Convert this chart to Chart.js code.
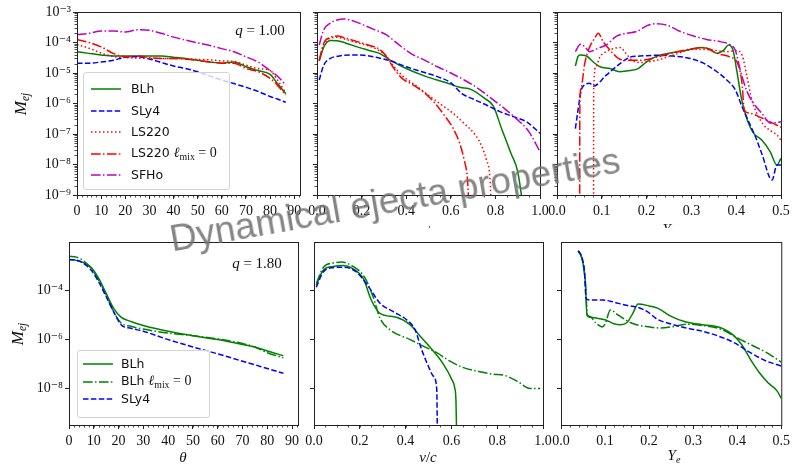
<!DOCTYPE html>
<html>
<head>
<meta charset="utf-8">
<title>Dynamical ejecta properties</title>
<script src="https://cdn.jsdelivr.net/npm/chart.js@4.4.0/dist/chart.umd.min.js"></script>
<style>
  html, body { margin: 0; padding: 0; background: #fff; }
  #fig { position: relative; width: 794px; height: 464px; overflow: hidden; background: #fff; }
  #fig canvas { position: absolute; left: 0; top: 0; }
  #topRow { position: absolute; left: 0; top: 0; width: 794px; height: 228px; overflow: hidden; }
  .lbl { position: absolute; transform: translate(-50%, -50%); white-space: nowrap; line-height: 1;
         font-family: 'Liberation Serif', 'DejaVu Serif', serif; font-size: 15px; color: #111; }
  .lbl sub { font-size: 0.68em; vertical-align: -0.3em; }
  .ytitle { transform: translate(-50%, -50%) rotate(-90deg); font-size: 17px; }
  .legend { position: absolute; box-sizing: border-box; background: rgba(255, 255, 255, 0.8);
            border: 1px solid #d4d4d4; border-radius: 3px;
            font-family: 'DejaVu Sans', sans-serif; font-size: 12.5px; color: #111; }
  .legend svg { position: absolute; }
  .legend span { position: absolute; transform: translateY(-50%); white-space: nowrap; line-height: 1; }
  .legend .m { position: static; transform: none; font-family: 'Liberation Serif', serif; font-size: 14px; }
  .legend sub { font-size: 0.7em; vertical-align: -0.3em; }
  .wm { position: absolute; left: 395px; top: 200px; transform: translate(-50%, -50%) rotate(-10deg);
        font-family: 'Liberation Sans', Arial, sans-serif; font-size: 37px; color: rgba(112, 112, 112, 0.85);
        white-space: nowrap; }
</style>
</head>
<body>
<div id="fig">
  <div id="topRow">
    <canvas id="thetaQ1" width="794" height="464"></canvas>
    <canvas id="velQ1" width="794" height="464"></canvas>
    <canvas id="yeQ1" width="794" height="464"></canvas>
    <div class="lbl" style="left:188px;top:231px"><i>θ</i></div>
    <div class="lbl" style="left:428px;top:231px"><i>v</i>/<i>c</i></div>
    <div class="lbl" style="left:669px;top:231px"><i>Y<sub>e</sub></i></div>
  </div>
  <canvas id="thetaQ2" width="794" height="464"></canvas>
  <canvas id="velQ2" width="794" height="464"></canvas>
  <canvas id="yeQ2" width="794" height="464"></canvas>

  <div class="lbl ytitle" style="left:22px;top:104px"><i>M<sub>ej</sub></i></div>
  <div class="lbl ytitle" style="left:19px;top:334px"><i>M<sub>ej</sub></i></div>
  <div class="lbl" style="left:260px;top:30px"><i>q</i> = 1.00</div>
  <div class="lbl" style="left:257px;top:263px"><i>q</i> = 1.80</div>
  <div class="lbl" style="left:183px;top:457px"><i>θ</i></div>
  <div class="lbl" style="left:428px;top:457px"><i>v</i>/<i>c</i></div>
  <div class="lbl" style="left:674px;top:457px"><i>Y<sub>e</sub></i></div>
</div>

<script>
// ---- tick labels ----
const thetaTicks = [0, 10, 20, 30, 40, 50, 60, 70, 80, 90];
const thetaTickLabels = ['0', '10', '20', '30', '40', '50', '60', '70', '80', '90'];
const velTicks = [0, 0.2, 0.4, 0.6, 0.8, 1.0];
const velTickLabels = ['0.0', '0.2', '0.4', '0.6', '0.8', '1.0'];
const yeTicks = [0, 0.1, 0.2, 0.3, 0.4, 0.5];
const yeTickLabels = ['0.0', '0.1', '0.2', '0.3', '0.4', '0.5'];
const massTicksQ1 = [1e-9, 1e-8, 1e-7, 1e-6, 1e-5, 1e-4, 1e-3];
const massTickLabelsQ1 = ['10⁻⁹', '10⁻⁸', '10⁻⁷', '10⁻⁶', '10⁻⁵', '10⁻⁴', '10⁻³'];
const massTicksQ2 = [1e-8, 1e-6, 1e-4];
const massTickLabelsQ2 = ['10⁻⁸', '10⁻⁶', '10⁻⁴'];

// ---- q = 1.00 : angular distribution ----
const thetaQ1 = [0, 5, 10, 15, 20, 25, 30, 35, 40, 45, 50, 55, 60, 65, 70, 75, 80, 83, 86.5];
const thQ1BLh = [5.0e-5, 4.4e-5, 3.9e-5, 3.6e-5, 3.6e-5, 3.6e-5, 3.6e-5, 3.6e-5, 3.3e-5, 3.0e-5, 2.6e-5, 2.3e-5, 2.1e-5, 2.3e-5, 1.6e-5, 1.2e-5, 9.0e-6, 4.6e-6, 2.1e-6];
const thQ1SLy4 = [2.1e-5, 2.1e-5, 2.3e-5, 2.6e-5, 3.3e-5, 3.4e-5, 2.9e-5, 2.2e-5, 1.7e-5, 1.4e-5, 1.1e-5, 8.0e-6, 5.9e-6, 4.5e-6, 3.4e-6, 2.5e-6, 1.7e-6, 1.4e-6, 1.1e-6];
const thQ1LS220 = [8.5e-5, 6.5e-5, 4.5e-5, 3.5e-5, 3.2e-5, 3.1e-5, 3.0e-5, 3.0e-5, 3.0e-5, 2.9e-5, 2.8e-5, 2.7e-5, 2.5e-5, 2.4e-5, 1.8e-5, 1.4e-5, 1.2e-5, 6.0e-6, 2.2e-6];
const thQ1LS220m = [1.26e-4, 1.0e-4, 7.2e-5, 4.4e-5, 3.4e-5, 3.6e-5, 3.2e-5, 3.0e-5, 3.0e-5, 2.8e-5, 2.6e-5, 2.3e-5, 2.1e-5, 2.1e-5, 1.4e-5, 1.1e-5, 6.7e-6, 4.0e-6, 1.9e-6];
const thQ1SFHo = [1.8e-4, 2.0e-4, 2.4e-4, 2.4e-4, 2.2e-4, 2.6e-4, 2.5e-4, 2.0e-4, 1.5e-4, 1.2e-4, 9.7e-5, 8.0e-5, 6.3e-5, 5.0e-5, 3.4e-5, 2.3e-5, 1.2e-5, 8.0e-6, 4.0e-6];

// ---- q = 1.00 : velocity distribution ----
const velQ1BLhX = [0.01, 0.03, 0.06, 0.09, 0.13, 0.18, 0.23, 0.28, 0.33, 0.40, 0.49, 0.58, 0.64, 0.69, 0.75, 0.79, 0.83, 0.87, 0.90, 0.935];
const velQ1BLh = [2.5e-5, 7.0e-5, 1.17e-4, 1.15e-4, 9.5e-5, 7.2e-5, 5.6e-5, 4.4e-5, 2.6e-5, 1.4e-5, 7.6e-6, 4.8e-6, 3.4e-6, 2.9e-6, 1.5e-6, 8.3e-7, 1.35e-7, 2.3e-8, 5.9e-9, 1e-10];
const velQ1SLy4X = [0.01, 0.03, 0.06, 0.10, 0.15, 0.21, 0.27, 0.33, 0.40, 0.47, 0.54, 0.60, 0.65, 0.70, 0.76, 0.82, 0.88, 0.94, 1.0];
const velQ1SLy4 = [5.9e-6, 1.8e-5, 3.0e-5, 3.6e-5, 3.9e-5, 3.8e-5, 3.2e-5, 2.5e-5, 1.6e-5, 1.1e-5, 7.6e-6, 4.8e-6, 2.1e-6, 1.4e-6, 8.9e-7, 5.4e-7, 3.7e-7, 2.5e-7, 1.05e-7];
const velQ1LS220X = [0.01, 0.03, 0.06, 0.09, 0.13, 0.18, 0.23, 0.28, 0.31, 0.34, 0.38, 0.43, 0.49, 0.55, 0.61, 0.66, 0.71, 0.74, 0.76, 0.775, 0.785];
const velQ1LS220 = [2.5e-5, 8.3e-5, 1.38e-4, 1.48e-4, 1.26e-4, 9.8e-5, 7.8e-5, 5.4e-5, 3.6e-5, 1.8e-5, 8.5e-6, 4.6e-6, 2.1e-6, 1.0e-6, 4.8e-7, 2.2e-7, 9.3e-8, 3.8e-8, 1.4e-8, 4e-9, 1e-10];
const velQ1LS220mX = [0.01, 0.03, 0.06, 0.09, 0.13, 0.18, 0.23, 0.28, 0.31, 0.34, 0.38, 0.43, 0.49, 0.53, 0.57, 0.61, 0.64, 0.66, 0.675, 0.685];
const velQ1LS220m = [2.6e-5, 9.5e-5, 1.48e-4, 1.62e-4, 1.38e-4, 1.07e-4, 8.3e-5, 6.0e-5, 3.6e-5, 1.6e-5, 6.8e-6, 4.1e-6, 2.0e-6, 1.0e-6, 4.2e-7, 1.55e-7, 4.9e-8, 1.4e-8, 3.1e-9, 1e-10];
const velQ1SFHoX = [0.01, 0.03, 0.06, 0.09, 0.12, 0.16, 0.21, 0.26, 0.31, 0.36, 0.42, 0.48, 0.54, 0.60, 0.66, 0.72, 0.78, 0.84, 0.90, 0.95, 1.0];
const velQ1SFHo = [8.3e-5, 2.6e-4, 4.3e-4, 5.5e-4, 5.9e-4, 5.2e-4, 3.7e-4, 2.6e-4, 1.8e-4, 9.3e-5, 4.4e-5, 2.7e-5, 1.6e-5, 1.0e-5, 5.9e-6, 3.2e-6, 1.5e-6, 6.9e-7, 2.9e-7, 1.2e-7, 2.6e-8];

// ---- q = 1.00 : electron fraction ----
const yeQ1BLhX = [0.041, 0.047, 0.052, 0.066, 0.081, 0.096, 0.118, 0.14, 0.163, 0.181, 0.2, 0.222, 0.26, 0.29, 0.32, 0.342, 0.357, 0.372, 0.383, 0.393, 0.401, 0.411, 0.42, 0.431, 0.439, 0.457, 0.476, 0.491, 0.5];
const yeQ1BLh = [1.7e-5, 3.5e-5, 3.9e-5, 3.6e-5, 2.3e-5, 1.6e-5, 1.4e-5, 1.1e-5, 1.2e-5, 1.4e-5, 2.3e-5, 3.5e-5, 4.7e-5, 5.6e-5, 6.9e-5, 6.0e-5, 4.4e-5, 5.6e-5, 8.3e-5, 5.6e-5, 1.26e-5, 1.66e-6, 4.8e-7, 1.7e-7, 1.05e-7, 6.3e-8, 2.6e-8, 9.6e-9, 1.6e-8];
const yeQ1SLy4X = [0.041, 0.047, 0.054, 0.062, 0.073, 0.081, 0.11, 0.14, 0.163, 0.185, 0.222, 0.26, 0.297, 0.327, 0.357, 0.379, 0.398, 0.413, 0.428, 0.443, 0.457, 0.48, 0.491, 0.5];
const yeQ1SLy4 = [1.5e-7, 6.2e-7, 2.7e-6, 4.1e-6, 4.6e-6, 3.7e-6, 8.5e-6, 2.0e-5, 3.3e-5, 3.6e-5, 3.8e-5, 3.6e-5, 3.0e-5, 2.1e-5, 1.1e-5, 5.9e-6, 2.8e-6, 7.9e-7, 2.5e-7, 8.1e-8, 2.3e-8, 3.1e-9, 9.6e-9, 9.6e-9];
const yeQ1LS220X = [0.0815, 0.082, 0.087, 0.096, 0.11, 0.129, 0.14, 0.154, 0.166, 0.185, 0.222, 0.26, 0.305, 0.349, 0.379, 0.401, 0.413, 0.424, 0.435, 0.446, 0.461, 0.476, 0.491, 0.5];
const yeQ1LS220 = [1e-10, 3.6e-6, 1.6e-5, 3.4e-5, 5.0e-5, 6.5e-5, 6.9e-5, 4.4e-5, 2.7e-5, 2.2e-5, 2.6e-5, 3.9e-5, 6.0e-5, 5.6e-5, 5.0e-5, 5.4e-5, 3.9e-5, 7.6e-6, 1.3e-6, 4.8e-7, 2.0e-7, 1.3e-7, 9.3e-8, 6.3e-8];
const yeQ1LS220mX = [0.0505, 0.051, 0.054, 0.062, 0.073, 0.084, 0.092, 0.103, 0.118, 0.137, 0.155, 0.185, 0.222, 0.26, 0.297, 0.327, 0.357, 0.387, 0.403, 0.413, 0.418, 0.431, 0.454, 0.476, 0.5];
const yeQ1LS220m = [1e-10, 8e-7, 3.5e-6, 2.1e-5, 7.2e-5, 1.37e-4, 2.0e-4, 1.07e-4, 5.7e-5, 3.0e-5, 2.6e-5, 2.6e-5, 3.3e-5, 4.7e-5, 6.0e-5, 6.8e-5, 4.4e-5, 3.3e-5, 2.1e-5, 4.6e-6, 6.1e-7, 4.8e-7, 3.5e-7, 2.5e-7, 1.65e-7];
const yeQ1SFHoX = [0.041, 0.052, 0.062, 0.073, 0.092, 0.11, 0.133, 0.155, 0.178, 0.2, 0.219, 0.245, 0.275, 0.305, 0.334, 0.364, 0.387, 0.398, 0.409, 0.424, 0.439, 0.457, 0.476, 0.5];
const yeQ1SFHo = [5.0e-5, 8.7e-5, 7.3e-5, 5.0e-5, 6.5e-5, 8.3e-5, 1.63e-4, 2.0e-4, 2.3e-4, 3.5e-4, 4.1e-4, 3.7e-4, 2.3e-4, 1.63e-4, 1.26e-4, 1.07e-4, 8.3e-5, 5.6e-5, 1.26e-5, 2.5e-6, 1.0e-6, 4.8e-7, 2.3e-7, 2.5e-7];

// ---- q = 1.80 : angular distribution ----
const thetaQ2 = [0, 3, 6, 9, 12, 15, 18, 21, 25, 30, 40, 50, 60, 70, 75, 80, 86.5];
const thQ2BLh = [1.9e-3, 1.75e-3, 1.4e-3, 8.9e-4, 3.2e-4, 7.8e-5, 1.9e-5, 8.3e-6, 5.5e-6, 3.8e-6, 2.2e-6, 1.45e-6, 1.0e-6, 6.3e-7, 5.0e-7, 3.4e-7, 2.2e-7];
const thQ2BLhm = [2.6e-3, 2.4e-3, 1.65e-3, 8.1e-4, 2.7e-4, 6.7e-5, 1.4e-5, 4.8e-6, 3.5e-6, 2.7e-6, 1.85e-6, 1.45e-6, 1.07e-6, 6.9e-7, 5.0e-7, 2.9e-7, 1.8e-7];
const thQ2SLy4 = [1.9e-3, 1.8e-3, 1.3e-3, 6.9e-4, 2.3e-4, 5.7e-5, 1.4e-5, 4.1e-6, 2.9e-6, 2.2e-6, 1.0e-6, 5.0e-7, 2.6e-7, 1.3e-7, 9.3e-8, 6.5e-8, 4.2e-8];

// ---- q = 1.80 : velocity distribution ----
const velQ2BLhX = [0.01, 0.04, 0.083, 0.127, 0.17, 0.215, 0.25, 0.288, 0.36, 0.419, 0.463, 0.521, 0.565, 0.601, 0.615, 0.62, 0.623];
const velQ2BLh = [1.7e-4, 6.9e-4, 1.0e-3, 1.1e-3, 8.1e-4, 3.2e-4, 4.2e-5, 1.2e-5, 8.3e-6, 4.1e-6, 1.4e-6, 3.4e-7, 9.8e-8, 2.4e-8, 1.0e-8, 3e-9, 1e-10];
const velQ2BLhmX = [0.01, 0.04, 0.083, 0.12, 0.17, 0.22, 0.258, 0.288, 0.33, 0.42, 0.477, 0.536, 0.594, 0.653, 0.71, 0.784, 0.828, 0.886, 0.945, 0.988];
const velQ2BLhm = [2.0e-4, 8.9e-4, 1.37e-3, 1.5e-3, 1.0e-3, 3.7e-4, 5.7e-5, 7.6e-6, 2.6e-6, 1.0e-6, 5.4e-7, 2.9e-7, 1.3e-7, 7.1e-8, 5.2e-8, 3.8e-8, 3.5e-8, 2.0e-8, 1.0e-8, 1.0e-8];
const velQ2SLy4X = [0.01, 0.04, 0.083, 0.127, 0.185, 0.244, 0.288, 0.346, 0.404, 0.441, 0.47, 0.499, 0.521, 0.536, 0.539];
const velQ2SLy4 = [1.4e-4, 5.9e-4, 8.9e-4, 9.3e-4, 5.9e-4, 1.23e-4, 3.1e-5, 1.4e-5, 6.5e-6, 2.6e-6, 3.9e-7, 8.3e-8, 3.2e-8, 9.3e-9, 1e-10];

// ---- q = 1.80 : electron fraction ----
const yeQ2BLhX = [0.039, 0.045, 0.05, 0.055, 0.059, 0.065, 0.08, 0.1, 0.12, 0.135, 0.15, 0.163, 0.175, 0.2, 0.22, 0.25, 0.28, 0.32, 0.35, 0.37, 0.39, 0.41, 0.43, 0.45, 0.47, 0.49, 0.5];
const yeQ2BLh = [4.2e-3, 2.8e-3, 1.3e-3, 2.7e-4, 1.0e-5, 8.3e-6, 7.6e-6, 6.5e-6, 4.5e-6, 4.1e-6, 5.0e-6, 1.2e-5, 2.9e-5, 2.4e-5, 1.9e-5, 8.9e-6, 5.5e-6, 4.1e-6, 3.5e-6, 2.7e-6, 1.6e-6, 6.3e-7, 1.55e-7, 4.5e-8, 1.7e-8, 8.1e-9, 3.9e-9];
const yeQ2BLhmX = [0.039, 0.045, 0.05, 0.055, 0.06, 0.066, 0.079, 0.094, 0.101, 0.112, 0.13, 0.16, 0.19, 0.225, 0.25, 0.285, 0.32, 0.365, 0.40, 0.43, 0.467, 0.5];
const yeQ2BLhm = [4.2e-3, 3.1e-3, 1.3e-3, 2.7e-4, 1.0e-5, 8.9e-6, 4.8e-6, 3.3e-6, 4.8e-6, 1.65e-5, 1.0e-5, 4.8e-6, 3.5e-6, 3.0e-6, 3.3e-6, 4.3e-6, 3.8e-6, 2.6e-6, 1.17e-6, 6.3e-7, 2.9e-7, 1.2e-7];
const yeQ2SLy4X = [0.039, 0.048, 0.053, 0.057, 0.064, 0.094, 0.116, 0.145, 0.174, 0.196, 0.218, 0.247, 0.284, 0.321, 0.357, 0.394, 0.43, 0.467, 0.5];
const yeQ2SLy4 = [4.4e-3, 2.2e-3, 6.9e-4, 4.9e-5, 4.2e-5, 4.2e-5, 3.6e-5, 2.6e-5, 2.1e-5, 1.4e-5, 6.9e-6, 4.5e-6, 3.0e-6, 2.2e-6, 1.4e-6, 7.3e-7, 2.9e-7, 1.3e-7, 8.3e-8];

// ---- styles (matplotlib g/b/r/m, lw 1.5) ----
const GREEN = '#008000', BLUE = '#0000ff', RED = '#ff0000', MAGENTA = '#bf00bf';
const SOLID = [], DASHED = [5.5, 2.4], DOTTED = [1.5, 2.5], DASHDOT = [9.6, 2.4, 1.5, 2.4];

const W = 794, H = 464, AXIS_W = 50, AXIS_H = 30;
const TICK_FONT = { family: "'Liberation Serif', 'DejaVu Serif', serif", size: 14 };
const INK = '#222';

function line(xs, ys, color, dash) {
    return {
        data: xs.map((x, i) => ({ x: x, y: ys[i] })),
        borderColor: color,
        borderDash: dash,
        borderWidth: 1.5,
        pointRadius: 0,
        fill: false,
        cubicInterpolationMode: 'monotone'
    };
}

// box around the axes plus the small minor ticks
function framePlugin(xMinor, yMinor) {
    return {
        id: 'frame',
        afterDraw(chart) {
            const { ctx, chartArea: a } = chart;
            const xs = chart.scales.x, ys = chart.scales.y;
            ctx.save();
            ctx.strokeStyle = INK;
            ctx.lineWidth = 0.8;
            ctx.beginPath();
            xMinor.forEach(v => {
                const px = Math.round(xs.getPixelForValue(v)) + 0.5;
                ctx.moveTo(px, a.bottom);
                ctx.lineTo(px, a.bottom + 2.5);
            });
            yMinor.forEach(v => {
                const py = Math.round(ys.getPixelForValue(v)) + 0.5;
                ctx.moveTo(a.left, py);
                ctx.lineTo(a.left - 2.5, py);
            });
            ctx.stroke();
            ctx.lineWidth = 1;
            ctx.strokeRect(a.left + 0.5, a.top + 0.5, a.right - a.left, a.bottom - a.top);
            ctx.restore();
        }
    };
}

function minorSteps(min, max, step) {
    const out = [];
    for (let i = 0; i * step <= max + 1e-9; i++) {
        if (i * step >= min) out.push(i * step);
    }
    return out;
}

function logMinor(decades) {
    const out = [];
    decades.slice(0, -1).forEach(d => {
        for (let k = 2; k <= 9; k++) out.push(k * d);
    });
    return out;
}

function panel(id, area, xAxis, yAxis, datasets) {
    datasets.forEach((d, i) => { d.order = datasets.length - i; });   // later series on top
    return new Chart(document.getElementById(id), {
        type: 'line',
        data: { datasets: datasets },
        options: {
            responsive: false,
            animation: false,
            devicePixelRatio: 1,
            layout: {
                autoPadding: false,
                padding: {
                    left: area.left - AXIS_W,
                    top: area.top,
                    right: W - area.right,
                    bottom: H - area.bottom - AXIS_H
                }
            },
            plugins: { legend: { display: false }, tooltip: { enabled: false } },
            scales: {
                x: {
                    type: 'linear',
                    min: xAxis.min,
                    max: xAxis.max,
                    afterBuildTicks: s => { s.ticks = xAxis.ticks.map(v => ({ value: v })); },
                    afterFit: s => { s.height = AXIS_H; },
                    grid: { drawOnChartArea: false, drawTicks: true, tickLength: 4, tickColor: INK, tickWidth: 1 },
                    border: { display: false },
                    ticks: {
                        autoSkip: false, maxRotation: 0, padding: 4, color: '#111', font: TICK_FONT,
                        callback: (v, i) => xAxis.labels[i]
                    }
                },
                y: {
                    type: 'logarithmic',
                    min: yAxis.min,
                    max: yAxis.max,
                    afterBuildTicks: s => { s.ticks = yAxis.ticks.map(v => ({ value: v })); },
                    afterFit: s => { s.width = AXIS_W; },
                    grid: { drawOnChartArea: false, drawTicks: true, tickLength: 4, tickColor: INK, tickWidth: 1 },
                    border: { display: false },
                    ticks: {
                        display: yAxis.showLabels, autoSkip: false, padding: 2, color: '#111', font: TICK_FONT,
                        callback: (v, i) => yAxis.labels[i]
                    }
                }
            }
        },
        plugins: [framePlugin(xAxis.minor, yAxis.minor)]
    });
}

function buildLegend(box, entries, firstRow, rowGap, sampleX, textX) {
    const el = document.createElement('div');
    el.className = 'legend';
    el.style.left = box[0] + 'px';
    el.style.top = box[1] + 'px';
    el.style.width = box[2] + 'px';
    el.style.height = box[3] + 'px';
    entries.forEach((e, i) => {
        const y = firstRow + i * rowGap;
        const dash = e.dash.length ? e.dash.join(' ') : 'none';
        el.insertAdjacentHTML('beforeend',
            `<svg style="left:${sampleX}px;top:${y - 4}px" width="30" height="8">` +
            `<line x1="0" y1="4" x2="30" y2="4" stroke="${e.color}" stroke-width="1.5" stroke-dasharray="${dash}"/></svg>` +
            `<span style="left:${textX}px;top:${y}px">${e.label}</span>`);
    });
    document.getElementById('fig').appendChild(el);
}

// ---- axes definitions ----
const thetaAxis = { min: 0, max: 92.4, ticks: thetaTicks, labels: thetaTickLabels, minor: minorSteps(0, 92.4, 2) };
const velAxis = { min: 0, max: 1.0, ticks: velTicks, labels: velTickLabels, minor: minorSteps(0, 1.0, 0.05) };
const yeAxis = { min: 0, max: 0.5, ticks: yeTicks, labels: yeTickLabels, minor: minorSteps(0, 0.5, 0.02) };
const massQ1 = (show) => ({ min: 1e-9, max: 1e-3, ticks: massTicksQ1, labels: massTickLabelsQ1, showLabels: show, minor: logMinor(massTicksQ1) });
const massQ2 = (show) => ({ min: Math.pow(10, -9.5), max: 1e-2, ticks: massTicksQ2, labels: massTickLabelsQ2, showLabels: show, minor: [] });

const ROW1 = { top: 12, bottom: 195 };
const ROW2 = { top: 242, bottom: 425 };

// ---- top row, q = 1.00 ----
panel('thetaQ1', { left: 77, right: 300, ...ROW1 }, thetaAxis, massQ1(true), [
    line(thetaQ1, thQ1BLh, GREEN, SOLID),
    line(thetaQ1, thQ1SLy4, BLUE, DASHED),
    line(thetaQ1, thQ1LS220, RED, DOTTED),
    line(thetaQ1, thQ1LS220m, RED, DASHDOT),
    line(thetaQ1, thQ1SFHo, MAGENTA, DASHDOT)
]);
panel('velQ1', { left: 317, right: 540, ...ROW1 }, velAxis, massQ1(false), [
    line(velQ1BLhX, velQ1BLh, GREEN, SOLID),
    line(velQ1SLy4X, velQ1SLy4, BLUE, DASHED),
    line(velQ1LS220X, velQ1LS220, RED, DOTTED),
    line(velQ1LS220mX, velQ1LS220m, RED, DASHDOT),
    line(velQ1SFHoX, velQ1SFHo, MAGENTA, DASHDOT)
]);
panel('yeQ1', { left: 557, right: 781, ...ROW1 }, yeAxis, massQ1(false), [
    line(yeQ1BLhX, yeQ1BLh, GREEN, SOLID),
    line(yeQ1SLy4X, yeQ1SLy4, BLUE, DASHED),
    line(yeQ1LS220X, yeQ1LS220, RED, DOTTED),
    line(yeQ1LS220mX, yeQ1LS220m, RED, DASHDOT),
    line(yeQ1SFHoX, yeQ1SFHo, MAGENTA, DASHDOT)
]);

// ---- bottom row, q = 1.80 ----
panel('thetaQ2', { left: 69, right: 298, ...ROW2 }, thetaAxis, massQ2(true), [
    line(thetaQ2, thQ2BLh, GREEN, SOLID),
    line(thetaQ2, thQ2BLhm, GREEN, DASHDOT),
    line(thetaQ2, thQ2SLy4, BLUE, DASHED)
]);
panel('velQ2', { left: 314, right: 543, ...ROW2 }, velAxis, massQ2(false), [
    line(velQ2BLhX, velQ2BLh, GREEN, SOLID),
    line(velQ2BLhmX, velQ2BLhm, GREEN, DASHDOT),
    line(velQ2SLy4X, velQ2SLy4, BLUE, DASHED)
]);
panel('yeQ2', { left: 561, right: 788, ...ROW2 }, yeAxis, massQ2(false), [
    line(yeQ2BLhX, yeQ2BLh, GREEN, SOLID),
    line(yeQ2BLhmX, yeQ2BLhm, GREEN, DASHDOT),
    line(yeQ2SLy4X, yeQ2SLy4, BLUE, DASHED)
]);

// ---- legends ----
const MIX0 = '<span class="m"><i>ℓ</i><sub>mix</sub> = 0</span>';
buildLegend([83, 72, 147, 118], [
    { label: 'BLh', color: GREEN, dash: SOLID },
    { label: 'SLy4', color: BLUE, dash: DASHED },
    { label: 'LS220', color: RED, dash: DOTTED },
    { label: 'LS220 ' + MIX0, color: RED, dash: DASHDOT },
    { label: 'SFHo', color: MAGENTA, dash: DASHDOT }
], 16, 21.5, 7, 47);
buildLegend([77, 350, 133, 68], [
    { label: 'BLh', color: GREEN, dash: SOLID },
    { label: 'BLh ' + MIX0, color: GREEN, dash: DASHDOT },
    { label: 'SLy4', color: BLUE, dash: DASHED }
], 13, 17.5, 5, 43);

// watermark across the figure
const wm = document.createElement('div');
wm.className = 'wm';
wm.textContent = 'Dynamical ejecta properties';
document.getElementById('fig').appendChild(wm);
</script>
</body>
</html>
